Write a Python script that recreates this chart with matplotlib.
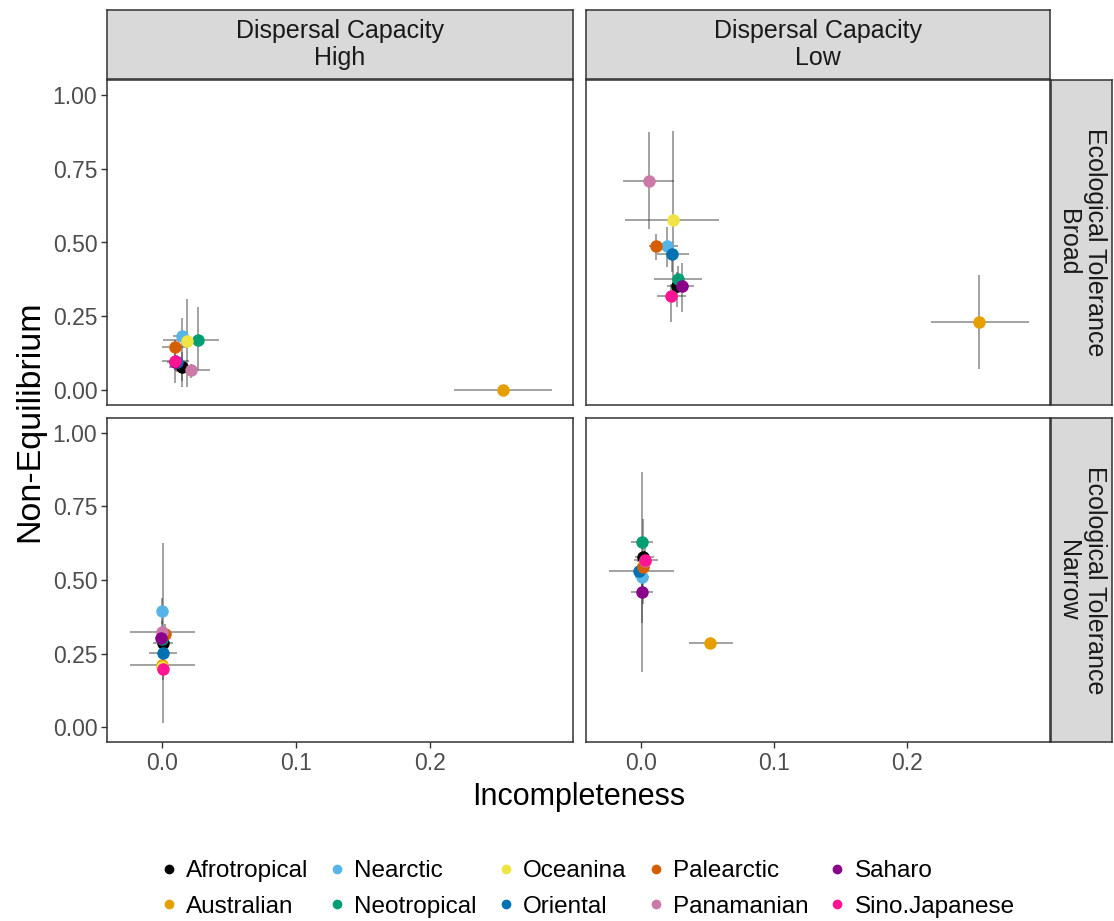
import matplotlib
matplotlib.use("Agg")
import matplotlib.pyplot as plt
from matplotlib.lines import Line2D

plt.rcParams["font.family"] = ["Liberation Sans", "DejaVu Sans"]

regions = ["Afrotropical", "Australian", "Nearctic", "Neotropical", "Oceanina",
           "Oriental", "Palearctic", "Panamanian", "Saharo", "Sino.Japanese"]
region_colors = ["#000000", "#E69F00", "#56B4E9", "#009E73", "#F0E442",
                 "#0072B2", "#D55E00", "#CC79A7", "#8B008B", "#FF1493"]

# Dispersal High / Tolerance Broad
hb_x = [0.015, 0.2545, 0.015, 0.027, 0.019, 0.011, 0.010, 0.022, 0.010, 0.010]
hb_y = [0.078, 0.000, 0.184, 0.170, 0.167, 0.095, 0.146, 0.068, 0.097, 0.099]
hb_xlo = [0.005, 0.218, 0.008, 0.001, 0.012, 0.004, 0.000, 0.010, 0.005, 0.000]
hb_xhi = [0.025, 0.291, 0.020, 0.043, 0.026, 0.018, 0.018, 0.036, 0.016, 0.020]
hb_ylo = [0.030, 0.000, 0.010, 0.068, 0.010, 0.060, 0.120, 0.040, 0.070, 0.024]
hb_yhi = [0.130, 0.000, 0.245, 0.280, 0.310, 0.120, 0.170, 0.090, 0.120, 0.130]

# Dispersal Low / Tolerance Broad
lb_x = [0.027, 0.254, 0.0195, 0.028, 0.0246, 0.0235, 0.0115, 0.006, 0.031, 0.023]
lb_y = [0.354, 0.231, 0.488, 0.378, 0.575, 0.462, 0.488, 0.707, 0.354, 0.320]
lb_xlo = [0.020, 0.218, 0.012, 0.010, -0.012, 0.012, 0.006, -0.013, 0.024, 0.012]
lb_xhi = [0.036, 0.291, 0.028, 0.046, 0.059, 0.036, 0.018, 0.025, 0.040, 0.034]
lb_ylo = [0.280, 0.071, 0.418, 0.330, 0.300, 0.400, 0.440, 0.544, 0.265, 0.230]
lb_yhi = [0.400, 0.391, 0.554, 0.420, 0.878, 0.500, 0.530, 0.874, 0.430, 0.360]

# Dispersal High / Tolerance Narrow
hn_x = [0.001, 0.000, 0.000, 0.000, 0.000, 0.001, 0.002, 0.000, -0.0005, 0.001]
hn_y = [0.285, 0.210, 0.395, 0.300, 0.205, 0.252, 0.316, 0.323, 0.303, 0.197]
hn_xlo = [-0.007, -0.024, -0.003, -0.004, -0.004, -0.010, -0.004, -0.024, -0.005, -0.004]
hn_xhi = [0.008, 0.025, 0.003, 0.004, 0.004, 0.011, 0.006, 0.025, 0.002, 0.005]
hn_ylo = [0.014, 0.190, 0.350, 0.270, 0.180, 0.220, 0.280, 0.290, 0.270, 0.160]
hn_yhi = [0.626, 0.230, 0.440, 0.330, 0.230, 0.280, 0.350, 0.360, 0.320, 0.230]

# Dispersal Low / Tolerance Narrow
ln_x = [0.002, 0.052, 0.001, 0.001, 0.002, -0.001, 0.002, 0.003, 0.001, 0.003]
ln_y = [0.578, 0.286, 0.510, 0.629, 0.550, 0.531, 0.544, 0.565, 0.459, 0.568]
ln_xlo = [-0.004, 0.036, -0.004, -0.007, -0.003, -0.024, -0.003, -0.003, -0.007, -0.005]
ln_xhi = [0.010, 0.069, 0.006, 0.009, 0.006, 0.025, 0.007, 0.008, 0.009, 0.013]
ln_ylo = [0.420, 0.280, 0.470, 0.187, 0.520, 0.500, 0.500, 0.530, 0.354, 0.530]
ln_yhi = [0.707, 0.292, 0.550, 0.867, 0.580, 0.560, 0.590, 0.600, 0.500, 0.610]

dispersal_levels = ["High", "Low"]
tolerance_levels = ["Broad", "Narrow"]
x_ticks = [0.0, 0.1, 0.2]
x_tick_labels = ["0.0", "0.1", "0.2"]
y_ticks = [0.00, 0.25, 0.50, 0.75, 1.00]
y_tick_labels = ["0.00", "0.25", "0.50", "0.75", "1.00"]

panel_data = {
    (0, 0): (hb_x, hb_y, hb_xlo, hb_xhi, hb_ylo, hb_yhi),
    (0, 1): (lb_x, lb_y, lb_xlo, lb_xhi, lb_ylo, lb_yhi),
    (1, 0): (hn_x, hn_y, hn_xlo, hn_xhi, hn_ylo, hn_yhi),
    (1, 1): (ln_x, ln_y, ln_xlo, ln_xhi, ln_ylo, ln_yhi),
}

W, H = 1114, 921
fig = plt.figure(figsize=(W / 100, H / 100), dpi=100)

col_px = [(107, 573), (586, 1050)]
row_px = [(80, 405), (418, 742)]
frame_col = "#333333"
tick_col = "#4D4D4D"


def px_box(x0, x1, y0, y1):
    return [x0 / W, 1 - y1 / H, (x1 - x0) / W, (y1 - y0) / H]


for (r, c), (xs, ys, xlo, xhi, ylo, yhi) in panel_data.items():
    ax = fig.add_axes(px_box(col_px[c][0], col_px[c][1], row_px[r][0], row_px[r][1]))
    ax.set_xlim(-0.041, 0.307)
    ax.set_ylim(-0.05, 1.05)
    for i in range(len(regions)):
        ax.plot([xlo[i], xhi[i]], [ys[i], ys[i]], color="#3a3a3a", alpha=0.55,
                lw=1.2, solid_capstyle="butt", zorder=2)
        ax.plot([xs[i], xs[i]], [ylo[i], yhi[i]], color="#3a3a3a", alpha=0.55,
                lw=1.2, solid_capstyle="butt", zorder=2)
    for i in range(len(regions)):
        ax.plot(xs[i], ys[i], "o", ms=9, color=region_colors[i], mec="none", zorder=3)
    for s in ax.spines.values():
        s.set_color(frame_col)
        s.set_linewidth(1.1)
    ax.set_xticks(x_ticks)
    ax.set_yticks(y_ticks)
    ax.tick_params(colors=frame_col, labelcolor=tick_col, labelsize=16.5,
                   length=4, width=1.0, pad=3)
    if c == 0:
        ax.set_yticklabels(y_tick_labels)
    else:
        ax.tick_params(axis="y", left=False, labelleft=False)
    if r == 1:
        ax.set_xticklabels(x_tick_labels)
    else:
        ax.tick_params(axis="x", bottom=False, labelbottom=False)

# column strips
for c, lev in enumerate(dispersal_levels):
    sax = fig.add_axes(px_box(col_px[c][0], col_px[c][1], 10, 79))
    sax.set_facecolor("#D9D9D9")
    sax.set_xticks([])
    sax.set_yticks([])
    for s in sax.spines.values():
        s.set_color(frame_col)
        s.set_linewidth(1.1)
    sax.text(0.5, 0.5, "Dispersal Capacity\n" + lev, ha="center", va="center",
             fontsize=18, color="#1A1A1A", linespacing=1.12, transform=sax.transAxes)

# row strips
for r, lev in enumerate(tolerance_levels):
    sax = fig.add_axes(px_box(1051, 1112, row_px[r][0], row_px[r][1]))
    sax.set_facecolor("#D9D9D9")
    sax.set_xticks([])
    sax.set_yticks([])
    for s in sax.spines.values():
        s.set_color(frame_col)
        s.set_linewidth(1.1)
    sax.text(0.5, 0.5, "Ecological Tolerance\n" + lev, ha="center", va="center",
             rotation=-90, fontsize=18, color="#1A1A1A", linespacing=1.12,
             transform=sax.transAxes)

fig.text(579 / W, 1 - 797 / H, "Incompleteness", ha="center", va="center",
         fontsize=22, color="black")
fig.text(30 / W, 1 - 421 / H, "Non-Equilibrium", ha="center", va="center",
         rotation=90, fontsize=24.5, color="black")

handles = [Line2D([], [], ls="none", marker="o", ms=7, color=col, mec="none")
           for col in region_colors]
fig.legend(handles, regions, loc="center", bbox_to_anchor=(588 / W, 1 - 889 / H),
           ncol=5, frameon=False, fontsize=17.5, handlelength=0.6,
           handletextpad=0.4, columnspacing=0.9, labelspacing=0.55,
           borderpad=0.0)

fig.savefig("out.png", dpi=100)
